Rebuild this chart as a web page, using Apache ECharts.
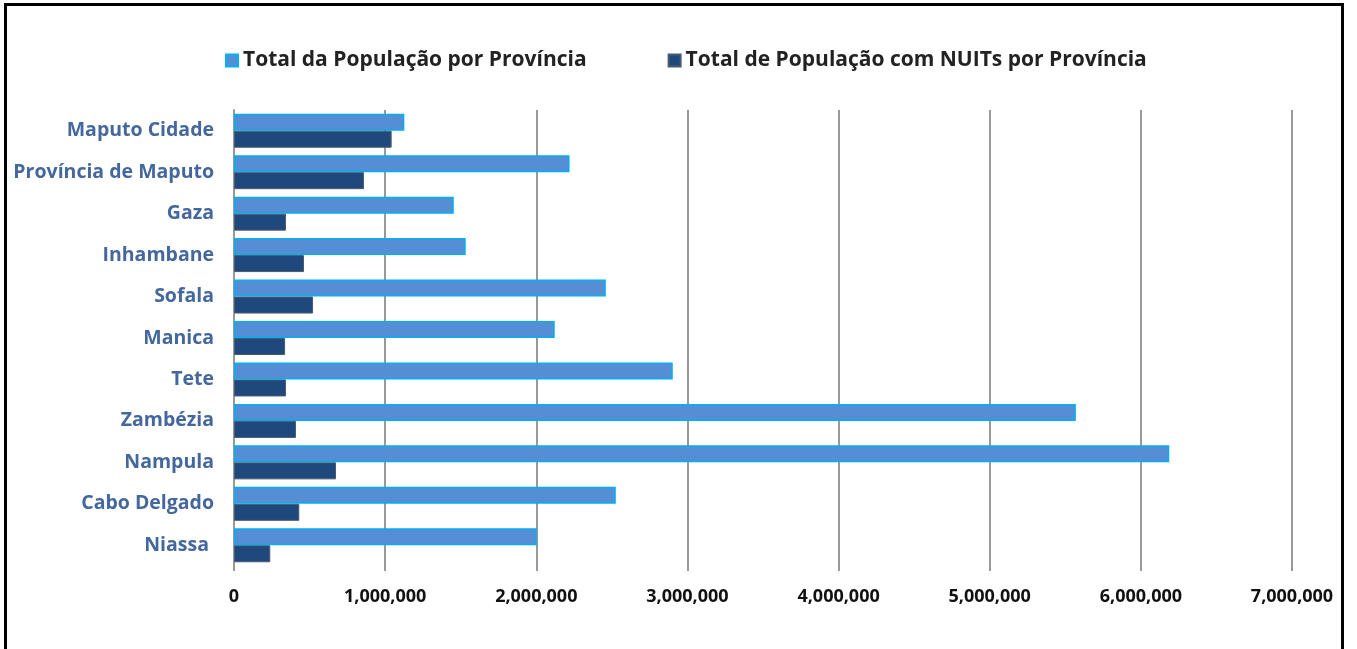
<!DOCTYPE html>
<html>
<head>
<meta charset="utf-8">
<script src="https://cdn.jsdelivr.net/npm/echarts@6/dist/echarts.min.js"></script>
<style>
  html, body { margin: 0; padding: 0; background: #fff; }
  #wrap { position: relative; width: 1357px; height: 649px; overflow: hidden; }
  #chart { position: absolute; left: 0; top: 0; width: 1357px; height: 649px; }
  #frame { position: absolute; left: 4px; top: 3px; width: 1334px; height: 700px; border: 3px solid #000; pointer-events: none; }
</style>
</head>
<body>
<div id="wrap">
  <div id="chart"></div>
  <div id="frame"></div>
</div>
<script>
const provinces = ['Maputo Cidade', 'Província de Maputo', 'Gaza', 'Inhambane', 'Sofala', 'Manica', 'Tete', 'Zambézia', 'Nampula', 'Cabo Delgado', 'Niassa '];
const totalPop = [1127000, 2220000, 1454000, 1533000, 2460000, 2122000, 2903000, 5570000, 6188000, 2526000, 2003000];
const nuitPop = [1043000, 860000, 344000, 463000, 523000, 338000, 344000, 410000, 675000, 432000, 240000];
const seriesNames = ['Total da População por Província', 'Total de População com NUITs por Província'];

const chart = echarts.init(document.getElementById('chart'));
chart.setOption({
  animation: false,
  legend: {
    top: 45, left: 220,
    itemWidth: 12, itemHeight: 12, itemGap: 81,
    textStyle: { fontFamily: 'Open Sans', fontWeight: 'bold', fontSize: 21, color: '#222' },
    data: seriesNames.map(n => ({ name: n, icon: 'rect' }))
  },
  grid: { left: 234, right: 65, top: 110, bottom: 83 },
  xAxis: {
    type: 'value', min: 0, max: 7000000, interval: 1000000,
    axisLine: { show: false },
    axisTick: { show: true, length: 5, lineStyle: { color: '#999', width: 2 } },
    splitLine: { show: true, lineStyle: { color: '#999', width: 2 } },
    axisLabel: {
      margin: 22, fontFamily: 'Open Sans', fontWeight: 'bold', fontSize: 18, color: '#111',
      formatter: v => v.toLocaleString('en-US')
    }
  },
  yAxis: {
    type: 'category', inverse: true, data: provinces,
    axisLine: { show: true, lineStyle: { color: '#999', width: 2 } },
    axisTick: { show: false },
    axisLabel: { margin: 20, fontFamily: 'Open Sans', fontWeight: 'bold', fontSize: 19.5, color: '#44679D' }
  },
  series: [
    {
      name: seriesNames[0], type: 'bar', data: totalPop,
      barGap: '0%', barCategoryGap: '18%',
      itemStyle: { color: '#558ED5', borderColor: '#00B0F0', borderWidth: 1.5 }
    },
    {
      name: seriesNames[1], type: 'bar', data: nuitPop,
      itemStyle: { color: '#1F497D', borderColor: '#4a5a70', borderWidth: 1 }
    }
  ]
});
</script>
</body>
</html>
